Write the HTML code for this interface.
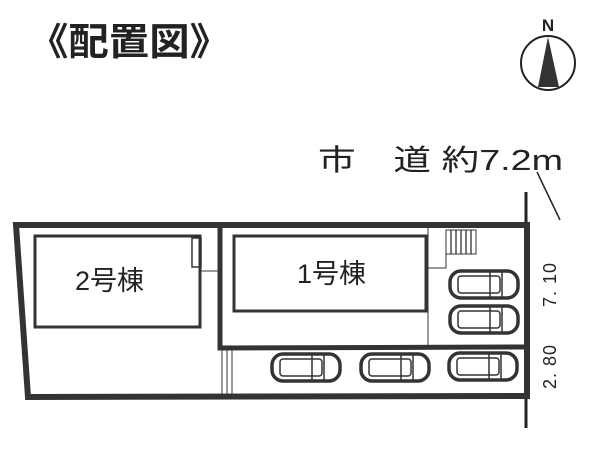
<!DOCTYPE html>
<html><head><meta charset="utf-8"><style>
body{margin:0;background:#fff;width:608px;height:448px;overflow:hidden}
</style></head><body>
<svg width="608" height="448" viewBox="0 0 608 448" xmlns="http://www.w3.org/2000/svg" font-family="'Liberation Sans','Noto Sans CJK JP',sans-serif">
<defs>
<g id="car">
<rect x="0" y="0" width="68" height="27" rx="11" fill="none" stroke="#333" stroke-width="3.5"/>
<rect x="8" y="5" width="42" height="17" rx="3" fill="none" stroke="#333" stroke-width="1.5"/>
<line x1="40" y1="1" x2="40" y2="26" stroke="#333" stroke-width="1.5"/>
<line x1="52" y1="1" x2="52" y2="26" stroke="#333" stroke-width="1.5"/>
</g>
</defs>
<text x="28" y="55" font-size="38" font-weight="bold" fill="#222" textLength="202" lengthAdjust="spacingAndGlyphs">《配置図》</text>
<text x="548" y="31" font-size="17" font-weight="bold" fill="#222" text-anchor="middle">N</text>
<circle cx="548" cy="63" r="27" fill="none" stroke="#222" stroke-width="2"/>
<polygon points="548,37 538,87 559,87" fill="#333"/>
<text x="318" y="170" font-size="29" fill="#222" textLength="245" lengthAdjust="spacingAndGlyphs">市　道 約7.2m</text>
<line x1="537" y1="172" x2="560" y2="220" stroke="#222" stroke-width="1.5"/>
<line x1="526" y1="192" x2="526" y2="428" stroke="#222" stroke-width="3"/>
<polygon points="16,225 527,225 527,396 28,397" fill="none" stroke="#333" stroke-width="6"/>
<polyline points="220,227 220,348 527,347" fill="none" stroke="#333" stroke-width="5"/>
<line x1="222" y1="350" x2="222" y2="395" stroke="#333" stroke-width="1"/>
<line x1="227" y1="350" x2="227" y2="395" stroke="#333" stroke-width="1"/>
<line x1="232" y1="350" x2="232" y2="395" stroke="#333" stroke-width="1"/>
<rect x="35" y="236" width="165" height="91" fill="none" stroke="#333" stroke-width="3"/>
<rect x="192" y="238" width="9" height="29" fill="none" stroke="#333" stroke-width="1.5"/>
<line x1="200" y1="271" x2="219" y2="271" stroke="#333" stroke-width="1"/>
<rect x="234" y="236" width="192" height="75" fill="none" stroke="#333" stroke-width="3"/>
<line x1="428" y1="228" x2="428" y2="345" stroke="#333" stroke-width="1"/>
<polyline points="428,268 446,268 446,230" fill="none" stroke="#333" stroke-width="1"/>
<rect x="446" y="230" width="30" height="24" fill="none" stroke="#333" stroke-width="1"/>
<g stroke="#333" stroke-width="1.3"><line x1="451" y1="230" x2="451" y2="254"/><line x1="456" y1="230" x2="456" y2="254"/><line x1="461" y1="230" x2="461" y2="254"/><line x1="466" y1="230" x2="466" y2="254"/><line x1="471" y1="230" x2="471" y2="254"/></g>
<text x="75" y="290" font-size="27" fill="#222">2号棟</text>
<text x="297" y="283" font-size="27" fill="#222">1号棟</text>
<use href="#car" x="450" y="271"/>
<use href="#car" x="450" y="306"/>
<use href="#car" x="272" y="354"/>
<use href="#car" x="361" y="354"/>
<use href="#car" x="449" y="353"/>
<text transform="translate(556,307) rotate(-90)" font-size="18" fill="#222" letter-spacing="1">7. 10</text>
<text transform="translate(556,389) rotate(-90)" font-size="18" fill="#222" letter-spacing="1">2. 80</text>
</svg>
</body></html>
